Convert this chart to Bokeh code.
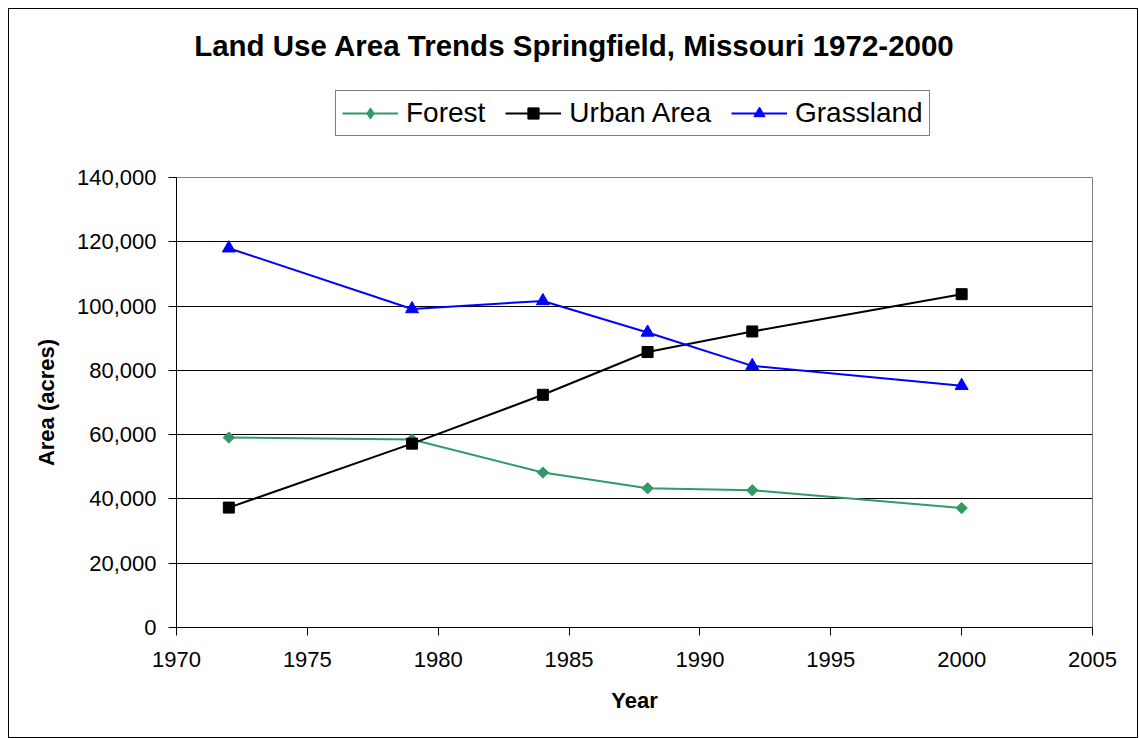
from bokeh.plotting import figure
from bokeh.models import Range1d, FixedTicker, NumeralTickFormatter, Legend, LegendItem, Label
from bokeh.layouts import column
from bokeh.embed import file_html
from bokeh.resources import INLINE
import math

years = [1972, 1979, 1984, 1988, 1992, 2000]
forest = [59100, 58500, 48200, 43300, 42700, 37150]
urban = [37300, 57200, 72400, 85700, 92100, 103700]
grassland = [118000, 99100, 101600, 91800, 81400, 75200]
x_ticks = [1970, 1975, 1980, 1985, 1990, 1995, 2000, 2005]
y_ticks = [0, 20000, 40000, 60000, 80000, 100000, 120000, 140000]
series_names = ["Forest", "Urban Area", "Grassland"]
title_text = "Land Use Area Trends Springfield, Missouri 1972-2000"

FONT = "Liberation Sans"
W = 1128
TOP_H = 148
styles = {
    "Forest": dict(color="#339966", marker="square", angle=math.pi / 4, size=8,
                   lmarker="diamond", lsize=12),
    "Urban Area": dict(color="#000000", marker="square", angle=0.0, size=11,
                       lmarker="square", lsize=8),
    "Grassland": dict(color="#0000FF", marker="triangle", angle=0.0, size=13,
                      lmarker="triangle", lsize=10),
}
series_vals = {"Forest": forest, "Urban Area": urban, "Grassland": grassland}

# ---- header figure: title + legend (its frame is aligned with the chart frame) ----
top = figure(width=W, height=TOP_H, output_backend="svg", toolbar_location=None,
             x_range=Range1d(176, 1092), y_range=Range1d(157, 9),
             min_border_left=0, min_border_right=0, min_border_top=0, min_border_bottom=0)
top.axis.visible = False
top.grid.visible = False
top.outline_line_color = None
top.background_fill_color = "white"
top.border_fill_color = "white"

items = []
for name in series_names:
    st = styles[name]
    # same series, far outside this header's visible ranges: only feeds the legend glyphs
    r1 = top.line(years, series_vals[name], line_color=st["color"], line_width=2)
    r2 = top.scatter(years, series_vals[name], marker=st["lmarker"], size=st["lsize"],
                     fill_color=st["color"], line_color=st["color"])
    items.append(LegendItem(label=name, renderers=[r1, r2]))

legend = Legend(items=items, orientation="horizontal", location=(159, 21),
                label_text_font=FONT, label_text_font_size="28px", label_text_color="#000000",
                glyph_width=56, glyph_height=28, label_standoff=8, spacing=20, padding=6,
                margin=0, border_line_color="#000000", border_line_width=1,
                background_fill_alpha=1.0)
top.add_layout(legend, "center")

top.add_layout(Label(x=574, y=45, text=title_text, text_font=FONT,
                     text_font_size="29.5px", text_font_style="bold", text_color="#000000",
                     text_align="center", text_baseline="middle"))

# ---- main chart ----
p = figure(width=W, height=580, output_backend="svg", toolbar_location=None,
           x_range=Range1d(1970, 2005), y_range=Range1d(0, 140000),
           min_border_left=167, min_border_right=45, min_border_top=20, min_border_bottom=110)
p.background_fill_color = "white"
p.border_fill_color = "white"
p.outline_line_color = "#808080"
p.outline_line_width = 1

p.xaxis.ticker = FixedTicker(ticks=x_ticks)
p.yaxis.ticker = FixedTicker(ticks=y_ticks)
p.yaxis.formatter = NumeralTickFormatter(format="0,0")
p.xaxis.formatter = NumeralTickFormatter(format="0")
p.xgrid.grid_line_color = None
p.ygrid.grid_line_color = "#000000"
p.ygrid.grid_line_width = 1

for ax in (p.xaxis, p.yaxis):
    ax.axis_line_color = "#000000"
    ax.axis_line_width = 1
    ax.major_tick_line_color = "#000000"
    ax.major_tick_out = 8
    ax.major_tick_in = 0
    ax.minor_tick_line_color = None
    ax.major_label_text_font = FONT
    ax.major_label_text_font_size = "22px"
    ax.major_label_text_color = "#000000"
    ax.axis_label_text_font = FONT
    ax.axis_label_text_font_size = "22px"
    ax.axis_label_text_font_style = "bold"
    ax.axis_label_text_color = "#000000"

p.xaxis.axis_label = "Year"
p.yaxis.axis_label = "Area (acres)"
p.yaxis.major_label_standoff = 12
p.xaxis.major_label_standoff = 16
p.yaxis.axis_label_standoff = 15
p.xaxis.axis_label_standoff = 18

for name in series_names:
    st = styles[name]
    p.line(years, series_vals[name], line_color=st["color"], line_width=2)
    p.scatter(years, series_vals[name], marker=st["marker"], size=st["size"], angle=st["angle"],
              fill_color=st["color"], line_color=st["color"])

layout = column(top, p, spacing=0)
layout.styles = {"margin-left": "8px", "margin-top": "8px", "border": "1px solid #000000"}

open("out.html", "w").write(file_html(layout, INLINE))
